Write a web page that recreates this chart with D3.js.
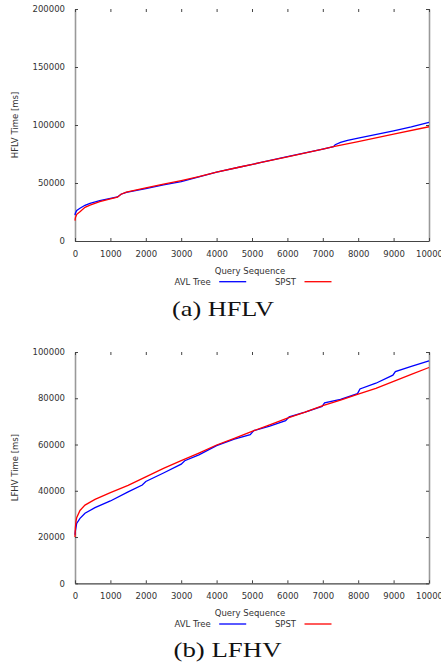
<!DOCTYPE html>
<html>
<head>
<meta charset="utf-8">
<script src="https://cdn.jsdelivr.net/npm/d3@7/dist/d3.min.js"></script>
<style>
    body { margin: 0; background: #fff; }
    svg { display: block; }
    .tick text { font-family: "DejaVu Sans", sans-serif; font-size: 8.5px; fill: #333; }
    .lbl { font-family: "DejaVu Sans", sans-serif; font-size: 8.5px; fill: #333; }
    .caption { font-family: "Liberation Serif", "DejaVu Serif", serif; font-size: 21px; fill: #111; }
</style>
</head>
<body>
<svg id="chart" width="441" height="667"></svg>
<script>
    'use strict';

    var queryTicks = [0, 1000, 2000, 3000, 4000, 5000, 6000, 7000, 8000, 9000, 10000];
    var hflvTicks = [0, 50000, 100000, 150000, 200000];
    var lfhvTicks = [0, 20000, 40000, 60000, 80000, 100000];
    var legendNames = ['AVL Tree', 'SPST'];

    // (a) HFLV
    var hflvAvlSeq = [0, 10, 50, 141, 282, 424, 700, 1000, 1200, 1300, 1450, 2000, 2500, 3000, 3500, 4000,
        4661, 5226, 6000, 7000, 7300, 7350, 7500, 7700, 8000, 9000, 9500, 10000];
    var hflvAvlTime = [22400, 24000, 26300, 28200, 30800, 32500, 34800, 36800, 38000, 40300, 42000, 45200,
        48300, 51200, 55300, 59300, 63800, 67500, 72700, 79300, 81400, 83000, 85000, 86800, 88700, 95000,
        98400, 102300];
    var hflvSpstSeq = [0, 10, 50, 141, 282, 424, 700, 1000, 1200, 1300, 1450, 2000, 2500, 3000, 3500, 4000,
        4661, 5226, 6000, 7000, 7300, 8000, 9000, 10000];
    var hflvSpstTime = [17500, 20000, 23000, 25300, 29000, 31000, 34000, 36300, 37800, 40300, 42200, 45800,
        49000, 52100, 55500, 59300, 63800, 67500, 72600, 79200, 81300, 85700, 92100, 98500];

    // (b) LFHV
    var lfhvAvlSeq = [0, 10, 47, 141, 282, 565, 1000, 1500, 1900, 2000, 2500, 3000, 3100, 3500, 4000, 4500,
        4950, 5050, 5500, 5950, 6050, 6500, 6980, 7050, 7500, 7980, 8050, 8500, 8980, 9050, 9500, 10000];
    var lfhvAvlTime = [21000, 22500, 25900, 28100, 30300, 32700, 35600, 39500, 42500, 44000, 47700, 51500,
        53000, 55500, 59500, 62300, 64300, 66000, 68000, 70300, 72000, 74000, 76500, 78000, 79500, 82000,
        84000, 86500, 90000, 91500, 93800, 96200];
    var lfhvSpstSeq = [0, 10, 30, 50, 141, 282, 565, 1000, 1500, 2000, 2500, 3000, 3500, 4000, 4500, 5000,
        5500, 6000, 6500, 7000, 7500, 8000, 8500, 9000, 9500, 10000];
    var lfhvSpstTime = [20000, 24000, 27000, 28500, 31500, 33800, 36300, 39200, 42300, 46000, 49700, 53000,
        56300, 59800, 62700, 65700, 68500, 71400, 74000, 76800, 79200, 81800, 84300, 87300, 90300, 93300];

    var svg = d3.select('#chart');
    var LEFT = 75;
    var RIGHT = 429;
    var COLORS = ['#0000ff', '#ff0000'];

    function zip(seq, time) {
        return seq.map(function (s, i) {
            return {x: s, y: time[i]};
        });
    }

    function styleAxis(g, color, width) {
        g.select('.domain').attr('stroke', color).attr('stroke-width', width);
        g.selectAll('.tick line').attr('stroke', '#444').attr('stroke-width', 1);
    }

    function drawPanel(cfg) {
        var x = d3.scaleLinear().domain([0, 10000]).range([LEFT, RIGHT]);
        var y = d3.scaleLinear().domain([0, cfg.yMax]).range([cfg.bottom, cfg.top]);
        var g = svg.append('g');

        var left = g.append('g').attr('transform', 'translate(' + LEFT + ',0)')
            .call(d3.axisLeft(y).tickValues(cfg.yTicks).tickSizeInner(-3).tickSizeOuter(0)
                .tickPadding(10).tickFormat(d3.format('d')));
        styleAxis(left, '#999', 1.6);

        var right = g.append('g').attr('transform', 'translate(' + RIGHT + ',0)')
            .call(d3.axisRight(y).tickValues(cfg.yTicks).tickSizeInner(-3).tickSizeOuter(0).tickFormat(''));
        styleAxis(right, '#999', 1.6);

        var top = g.append('g').attr('transform', 'translate(0,' + cfg.top + ')')
            .call(d3.axisTop(x).tickValues(queryTicks).tickSizeInner(-3).tickSizeOuter(0).tickFormat(''));
        top.select('.domain').remove();
        top.selectAll('.tick line').attr('stroke', '#444');

        var bottom = g.append('g').attr('transform', 'translate(0,' + cfg.bottom + ')')
            .call(d3.axisBottom(x).tickValues(queryTicks).tickSizeInner(-3).tickSizeOuter(0)
                .tickPadding(10).tickFormat(d3.format('d')));
        styleAxis(bottom, '#444', 1.2);

        var line = d3.line()
            .x(function (d) { return x(d.x); })
            .y(function (d) { return y(d.y); });

        cfg.series.forEach(function (s, i) {
            g.append('path')
                .datum(s)
                .attr('fill', 'none')
                .attr('stroke', COLORS[i])
                .attr('stroke-width', 1.3)
                .attr('d', line);
        });

        g.append('text').attr('class', 'lbl')
            .attr('transform', 'translate(15.5,' + ((cfg.top + cfg.bottom) / 2) + ') rotate(-90)')
            .attr('text-anchor', 'middle')
            .attr('dy', '0.35em')
            .text(cfg.yLabel);

        g.append('text').attr('class', 'lbl')
            .attr('x', 250).attr('y', cfg.bottom + 30).attr('dy', '0.35em')
            .attr('text-anchor', 'middle')
            .text('Query Sequence');

        // legend
        var legendY = cfg.bottom + 40.7;
        var legendX = [210.7, 296];
        legendNames.forEach(function (name, i) {
            g.append('text').attr('class', 'lbl')
                .attr('x', legendX[i]).attr('y', legendY).attr('dy', '0.35em')
                .attr('text-anchor', 'end')
                .text(name);
            g.append('line')
                .attr('x1', legendX[i] + 8.5).attr('x2', legendX[i] + 35.5)
                .attr('y1', legendY).attr('y2', legendY)
                .attr('stroke', COLORS[i]).attr('stroke-width', 1.3);
        });

        g.append('text').attr('class', 'caption')
            .attr('x', cfg.captionX).attr('y', cfg.captionY)
            .attr('text-anchor', 'middle')
            .attr('textLength', cfg.captionW)
            .attr('lengthAdjust', 'spacingAndGlyphs')
            .text(cfg.caption);
    }

    drawPanel({
        top: 9, bottom: 241, yMax: 200000, yTicks: hflvTicks,
        yLabel: 'HFLV Time [ms]',
        caption: '(a) HFLV', captionX: 223, captionY: 316, captionW: 102,
        series: [zip(hflvAvlSeq, hflvAvlTime), zip(hflvSpstSeq, hflvSpstTime)]
    });

    drawPanel({
        top: 352, bottom: 583.3, yMax: 100000, yTicks: lfhvTicks,
        yLabel: 'LFHV Time [ms]',
        caption: '(b) LFHV', captionX: 227.5, captionY: 657, captionW: 108,
        series: [zip(lfhvAvlSeq, lfhvAvlTime), zip(lfhvSpstSeq, lfhvSpstTime)]
    });
</script>
</body>
</html>
